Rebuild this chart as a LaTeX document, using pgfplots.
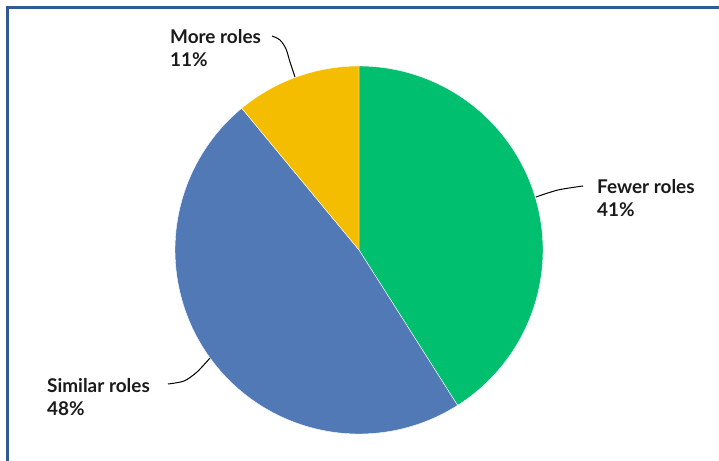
\documentclass[border=0pt]{standalone}
\usepackage{pgfplots}
\pgfplotsset{compat=1.18}
\usepackage{pgfplotstable}
\usepackage{fontspec}
\setmainfont{Lato}
\definecolor{smgreen}{HTML}{00BF6F}
\definecolor{smblue}{HTML}{5079B5}
\definecolor{smyellow}{HTML}{F5BD00}
\definecolor{framecol}{HTML}{2F5A96}
\definecolor{txt}{HTML}{1A1A1A}
\pgfplotstableread{
label value
Fewer 41
Similar 48
More 11
}\piedata
\begin{document}
\begin{tikzpicture}
\pgfplotstablegetelem{0}{value}\of\piedata \pgfmathsetmacro{\vA}{\pgfplotsretval}
\pgfplotstablegetelem{1}{value}\of\piedata \pgfmathsetmacro{\vB}{\pgfplotsretval}
\pgfplotstablegetelem{2}{value}\of\piedata \pgfmathsetmacro{\vC}{\pgfplotsretval}
\pgfmathsetmacro{\aA}{90}
\pgfmathsetmacro{\aB}{\aA-3.6*\vA}
\pgfmathsetmacro{\aC}{\aB-3.6*\vB}
\pgfmathsetmacro{\aD}{\aC-3.6*\vC}
\begin{axis}[scale only axis, width=719bp, height=461bp,
  xmin=0, xmax=719, ymin=0, ymax=461, hide axis]
\addplot[draw=white, line width=0.4pt, fill=smgreen, domain=\aB:\aA, samples=120, variable=\t]
  ({359+184*cos(\t)},{211+184*sin(\t)}) -- (axis cs:359,211) -- cycle;
\addplot[draw=white, line width=0.4pt, fill=smblue, domain=\aC:\aB, samples=120, variable=\t]
  ({359+184*cos(\t)},{211+184*sin(\t)}) -- (axis cs:359,211) -- cycle;
\addplot[draw=white, line width=0.4pt, fill=smyellow, domain=\aD:\aC, samples=60, variable=\t]
  ({359+184*cos(\t)},{211+184*sin(\t)}) -- (axis cs:359,211) -- cycle;
% leader lines
\addplot[black, line width=1bp, smooth] coordinates {(272,425) (280,421) (286,412) (290,399) (295,384)};
\addplot[black, line width=1bp, smooth] coordinates {(536,264) (558,271) (583,275)};
\addplot[black, line width=1bp, smooth] coordinates {(168,77) (184,80) (197,89) (210,103)};
% labels
\begin{scope}[every node/.style={anchor=base west, inner sep=0pt, text=txt, font=\fontsize{19}{21}\selectfont\bfseries}]
\node at (axis cs:170,417) {More roles};
\node at (axis cs:170,394) {11\%};
\node at (axis cs:597,267) {Fewer roles};
\node at (axis cs:597,244) {41\%};
\node at (axis cs:47,68) {Similar roles};
\node at (axis cs:47,45) {48\%};
\end{scope}
% frame
\draw[framecol, line width=2.5bp] (axis cs:7.5,0) -- (axis cs:7.5,453.5) -- (axis cs:719,453.5);
\end{axis}
\pgfresetboundingbox
\path (current axis.south west) rectangle (current axis.north east);
\end{tikzpicture}
\end{document}
